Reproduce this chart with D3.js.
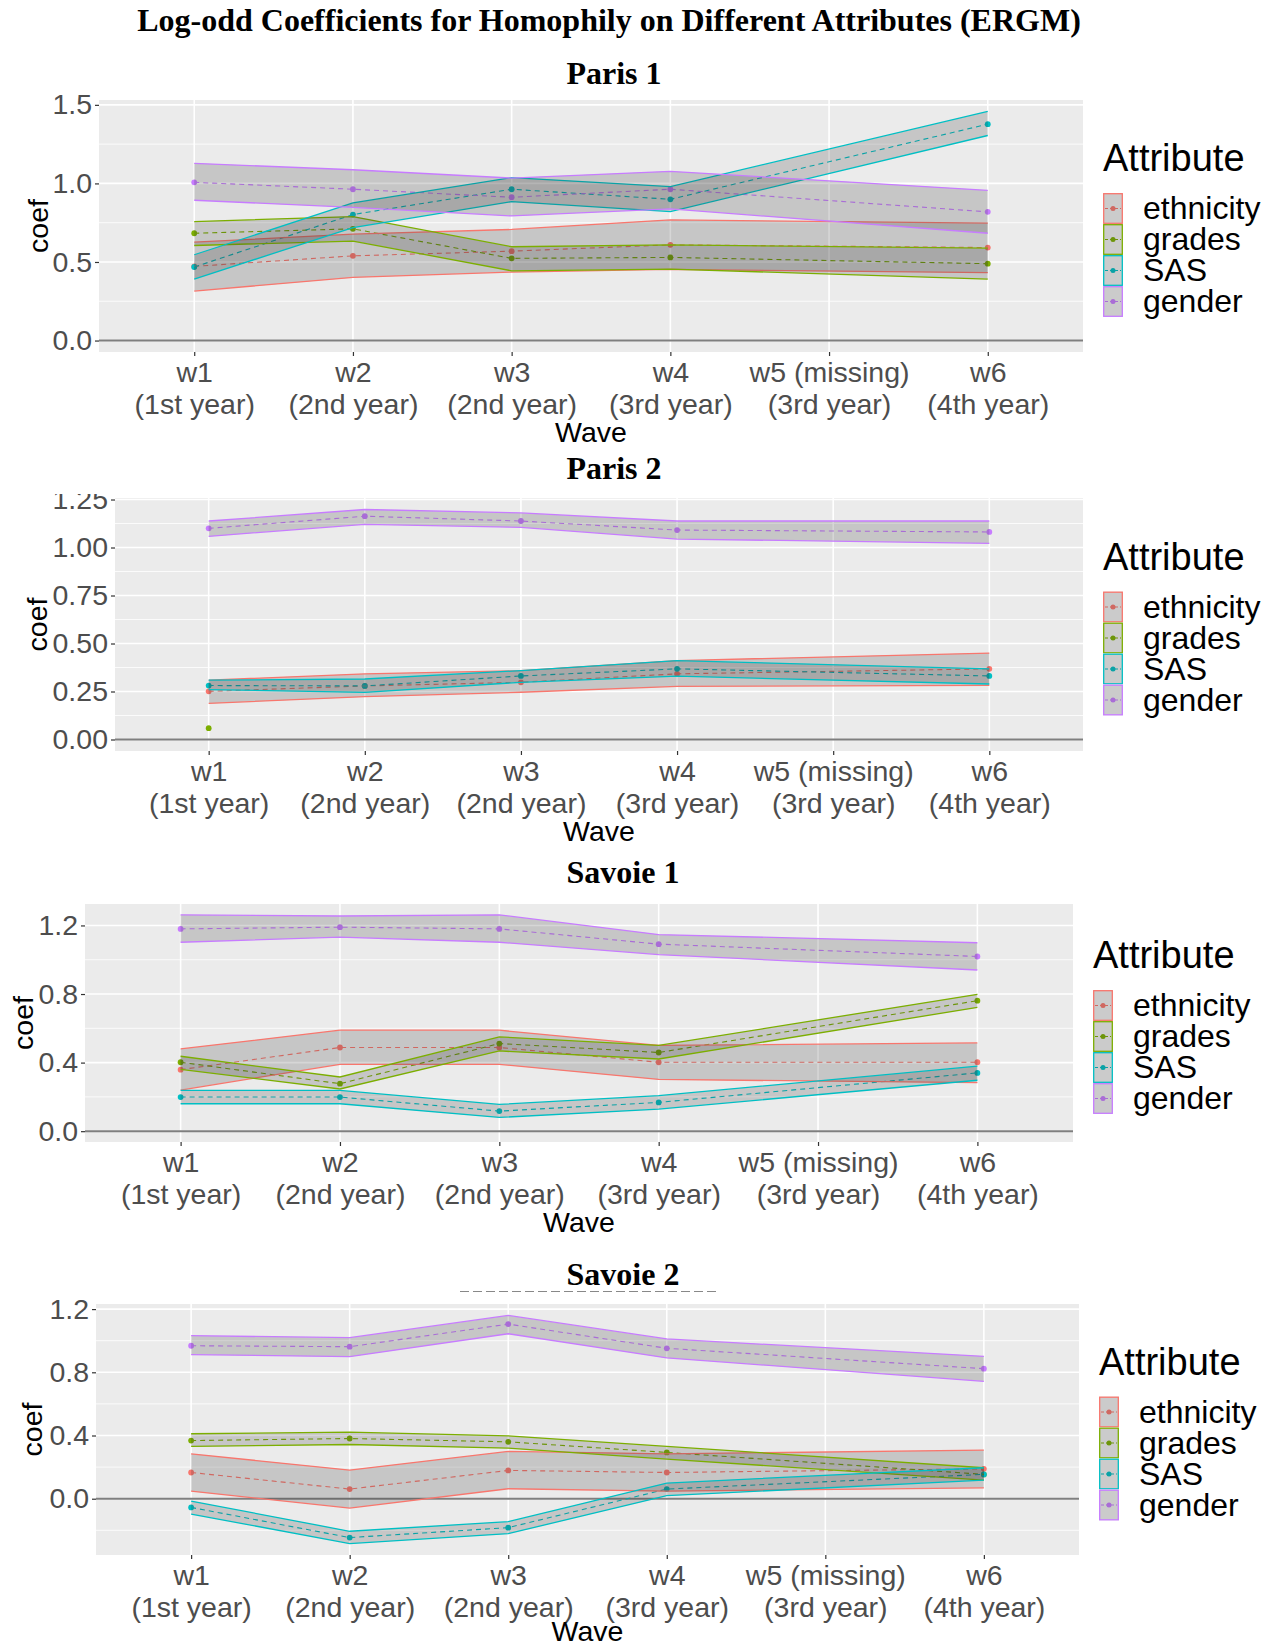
<!DOCTYPE html>
<html>
<head>
<meta charset="utf-8">
<script src="https://cdn.jsdelivr.net/npm/d3@7"></script>
<style>
body{margin:0;background:#fff}
text{font-family:"Liberation Sans",Arial,sans-serif}
.ttl{font-family:"Liberation Serif","Times New Roman",serif;font-weight:bold}
</style>
</head>
<body>
<svg id="chart" width="1275" height="1647"></svg>
<script>
var attributes=["ethnicity","grades","SAS","gender"];
var colors=["#F8766D","#7CAE00","#00BFC4","#C77CFF"];
var waves=["w1","w2","w3","w4","w5","w6"];
var waveLabels=[["w1","(1st year)"],["w2","(2nd year)"],["w3","(2nd year)"],["w4","(3rd year)"],["w5 (missing)","(3rd year)"],["w6","(4th year)"]];

// attribute, wave, coef, lower, upper  (w5 missing)
var paris1=[
  ["ethnicity","w1",0.472,0.315,0.626],["ethnicity","w2",0.539,0.402,0.677],["ethnicity","w3",0.569,0.436,0.707],
  ["ethnicity","w4",0.609,0.453,0.768],["ethnicity","w6",0.592,0.432,0.747],
  ["grades","w1",0.683,0.605,0.757],["grades","w2",0.711,0.633,0.789],["grades","w3",0.523,0.444,0.597],
  ["grades","w4",0.529,0.455,0.609],["grades","w6",0.489,0.391,0.588],
  ["SAS","w1",0.468,0.391,0.546],["SAS","w2",0.802,0.719,0.876],["SAS","w3",0.963,0.884,1.037],
  ["SAS","w4",0.899,0.821,0.980],["SAS","w6",1.377,1.305,1.458],
  ["gender","w1",1.007,0.893,1.128],["gender","w2",0.963,0.848,1.087],["gender","w3",0.912,0.793,1.034],
  ["gender","w4",0.963,0.838,1.077],["gender","w6",0.819,0.683,0.956]
];
var paris2=[
  ["ethnicity","w1",0.251,0.188,0.309],["ethnicity","w2",0.279,0.223,0.342],["ethnicity","w3",0.298,0.246,0.359],
  ["ethnicity","w4",0.342,0.277,0.411],["ethnicity","w6",0.368,0.282,0.450],
  ["grades","w1",0.059,null,null],
  ["SAS","w1",0.281,0.260,0.309],["SAS","w2",0.279,0.245,0.315],["SAS","w3",0.331,0.298,0.359],
  ["SAS","w4",0.368,0.330,0.411],["SAS","w6",0.331,0.289,0.368],
  ["gender","w1",1.100,1.058,1.138],["gender","w2",1.163,1.121,1.198],["gender","w3",1.138,1.105,1.180],
  ["gender","w4",1.091,1.044,1.138],["gender","w6",1.081,1.022,1.138]
];
var savoie1=[
  ["ethnicity","w1",0.359,0.240,0.480],["ethnicity","w2",0.488,0.390,0.589],["ethnicity","w3",0.488,0.390,0.589],
  ["ethnicity","w4",0.402,0.302,0.500],["ethnicity","w6",0.402,0.283,0.515],
  ["grades","w1",0.402,0.361,0.437],["grades","w2",0.277,0.246,0.316],["grades","w3",0.511,0.468,0.550],
  ["grades","w4",0.459,0.421,0.500],["grades","w6",0.761,0.722,0.798],
  ["SAS","w1",0.199,0.160,0.238],["SAS","w2",0.199,0.160,0.238],["SAS","w3",0.117,0.080,0.156],
  ["SAS","w4",0.168,0.129,0.207],["SAS","w6",0.340,0.297,0.379],
  ["gender","w1",1.180,1.102,1.262],["gender","w2",1.190,1.132,1.255],["gender","w3",1.180,1.102,1.262],
  ["gender","w4",1.091,1.030,1.147],["gender","w6",1.019,0.940,1.099]
];
var savoie2=[
  ["ethnicity","w1",0.166,0.048,0.284],["ethnicity","w2",0.061,-0.059,0.181],["ethnicity","w3",0.179,0.063,0.299],
  ["ethnicity","w4",0.166,0.048,0.284],["ethnicity","w6",0.189,0.069,0.307],
  ["grades","w1",0.368,0.331,0.411],["grades","w2",0.381,0.343,0.421],["grades","w3",0.360,0.320,0.398],
  ["grades","w4",0.293,0.251,0.331],["grades","w6",0.154,0.118,0.196],
  ["SAS","w1",-0.055,-0.097,-0.015],["SAS","w2",-0.246,-0.284,-0.206],["SAS","w3",-0.183,-0.221,-0.145],
  ["SAS","w4",0.061,0.019,0.099],["SAS","w6",0.154,0.118,0.196],
  ["gender","w1",0.968,0.912,1.032],["gender","w2",0.962,0.899,1.019],["gender","w3",1.105,1.044,1.160],
  ["gender","w4",0.952,0.891,1.011],["gender","w6",0.823,0.743,0.901]
];

var paris1Ticks=[0,0.5,1,1.5];
var paris2Ticks=[0,0.25,0.5,0.75,1,1.25];
var savoie1Ticks=[0,0.4,0.8,1.2];
var savoie2Ticks=[0,0.4,0.8,1.2];

var panels=[
  {title:"Paris 1",rows:paris1,ticks:paris1Ticks,fmt:".1f",x0:99,x1:1083,y0:100,y1:352,titleX:614,titleY:84,coefX:38,waveY:90},
  {title:"Paris 2",rows:paris2,ticks:paris2Ticks,fmt:".2f",x0:115,x1:1083,y0:498,y1:751,titleX:614,titleY:479,coefX:37,waveY:90},
  {title:"Savoie 1",rows:savoie1,ticks:savoie1Ticks,fmt:".1f",x0:85,x1:1073,y0:904,y1:1142,titleX:623,titleY:883,coefX:23,waveY:90},
  {title:"Savoie 2",rows:savoie2,ticks:savoie2Ticks,fmt:".1f",x0:96,x1:1079,y0:1304,y1:1555,titleX:623,titleY:1285,coefX:32,waveY:86}
];

var svg=d3.select("#chart");
svg.append("rect").attr("width",1275).attr("height",1647).attr("fill","#fff");

svg.append("text").attr("class","ttl")
  .attr("x",609).attr("y",31).attr("text-anchor","middle")
  .attr("font-size",32).text("Log-odd Coefficients for Homophily on Different Attributes (ERGM)");

function colorOf(a){ return colors[attributes.indexOf(a)]; }

function drawPanel(p){
  var g=svg.append("g");
  var vals=[0];
  p.rows.forEach(function(r){ vals.push(r[2]); if(r[3]!=null) vals.push(r[3],r[4]); });
  var ext=d3.extent(vals), pad=(ext[1]-ext[0])*0.05;
  var y=d3.scaleLinear().domain([ext[0]-pad,ext[1]+pad]).range([p.y1,p.y0]);
  var x=d3.scalePoint().domain(waves).range([p.x0,p.x1]).padding(0.6);

  g.append("rect").attr("x",p.x0).attr("y",p.y0)
    .attr("width",p.x1-p.x0).attr("height",p.y1-p.y0).attr("fill","#EBEBEB");

  //grid menor
  var step=p.ticks[1]-p.ticks[0], minor=[];
  for(var v=p.ticks[0]-step*1.5; v<=p.ticks[p.ticks.length-1]+step; v+=step){
    if(v>=y.domain()[0] && v<=y.domain()[1]) minor.push(v);
  }
  g.selectAll("line.minor").data(minor).enter().append("line")
    .attr("x1",p.x0).attr("x2",p.x1)
    .attr("y1",function(d){return y(d)}).attr("y2",function(d){return y(d)})
    .attr("stroke","#fff").attr("stroke-width",0.8);
  g.selectAll("line.major").data(p.ticks).enter().append("line")
    .attr("x1",p.x0).attr("x2",p.x1)
    .attr("y1",function(d){return y(d)}).attr("y2",function(d){return y(d)})
    .attr("stroke","#fff").attr("stroke-width",1.6);
  g.selectAll("line.vgrid").data(waves).enter().append("line")
    .attr("x1",function(d){return x(d)}).attr("x2",function(d){return x(d)})
    .attr("y1",p.y0).attr("y2",p.y1)
    .attr("stroke","#fff").attr("stroke-width",1.6);

  g.append("line").attr("x1",p.x0).attr("x2",p.x1).attr("y1",y(0)).attr("y2",y(0))
    .attr("stroke","#7F7F7F").attr("stroke-width",2);

  //ejes
  var gy=g.append("g").attr("transform","translate("+p.x0+",0)")
    .call(d3.axisLeft(y).tickValues(p.ticks).tickFormat(d3.format(p.fmt)).tickSize(4).tickPadding(3));
  var gx=g.append("g").attr("transform","translate(0,"+p.y1+")")
    .call(d3.axisBottom(x).tickSize(4).tickFormat(""));
  [gy,gx].forEach(function(a){
    a.select(".domain").remove();
    a.attr("font-family",null).attr("font-size",null).attr("color","#333");
    a.selectAll(".tick line").attr("stroke-width",1.2);
    a.selectAll(".tick text").attr("fill","#4D4D4D");
  });
  gy.selectAll(".tick text").attr("font-size",28.5);
  gx.selectAll(".tick text").attr("font-size",28.5).attr("dy",null).attr("y",null)
    .each(function(d,i){
      var t=d3.select(this);
      t.append("tspan").attr("x",0).attr("y",30).text(waveLabels[i][0]);
      t.append("tspan").attr("x",0).attr("y",62).text(waveLabels[i][1]);
    });

  g.append("text").attr("x",(p.x0+p.x1)/2).attr("y",p.y1+p.waveY).attr("text-anchor","middle")
    .attr("font-size",28.5).text("Wave");
  g.append("text").attr("transform","translate("+p.coefX+","+((p.y0+p.y1)/2)+")rotate(-90)")
    .attr("text-anchor","middle").attr("dy","0.35em").attr("font-size",28.5).text("coef");
  svg.append("text").attr("class","ttl").attr("x",p.titleX).attr("y",p.titleY)
    .attr("text-anchor","middle").attr("font-size",32).text(p.title);

  var groups=attributes.map(function(a){
    return {name:a, rows:p.rows.filter(function(r){return r[0]==a})};
  });

  var line=d3.line().x(function(r){return x(r[1])}).y(function(r){return y(r[2])});
  var area=d3.area().x(function(r){return x(r[1])})
    .y0(function(r){return y(r[3])}).y1(function(r){return y(r[4])});
  var lo=d3.line().x(function(r){return x(r[1])}).y(function(r){return y(r[3])});
  var hi=d3.line().x(function(r){return x(r[1])}).y(function(r){return y(r[4])});

  //puntos
  groups.forEach(function(gr){
    g.selectAll(null).data(gr.rows).enter().append("circle")
      .attr("cx",function(r){return x(r[1])}).attr("cy",function(r){return y(r[2])})
      .attr("r",2.9).attr("fill",colorOf(gr.name));
  });
  //lineas
  groups.forEach(function(gr){
    if(gr.rows.length<2) return;
    g.append("path").attr("d",line(gr.rows)).attr("fill","none")
      .attr("stroke",colorOf(gr.name)).attr("stroke-width",1.1).attr("stroke-dasharray","5,4");
  });
  //bandas
  groups.forEach(function(gr){
    var rr=gr.rows.filter(function(r){return r[3]!=null});
    if(rr.length<2) return;
    g.append("path").attr("d",area(rr)).attr("fill","rgba(51,51,51,0.2)");
    g.append("path").attr("d",lo(rr)).attr("fill","none").attr("stroke",colorOf(gr.name)).attr("stroke-width",1.3);
    g.append("path").attr("d",hi(rr)).attr("fill","none").attr("stroke",colorOf(gr.name)).attr("stroke-width",1.3);
  });

  drawLegend(p);
}

function drawLegend(p){
  var cy=(p.y0+p.y1)/2;
  var lg=svg.append("g").attr("transform","translate("+(p.x1+20)+","+(cy-86)+")");
  lg.append("text").attr("y",31).attr("font-size",38).text("Attribute");
  var key=lg.selectAll("g.key").data(attributes).enter().append("g")
    .attr("transform",function(d,i){return "translate(0,"+(53+i*31)+")"});
  key.append("rect").attr("width",20).attr("height",31).attr("fill","#F2F2F2");
  key.append("line").attr("x1",2).attr("x2",18).attr("y1",15.5).attr("y2",15.5)
    .attr("stroke",function(d,i){return colors[i]}).attr("stroke-dasharray","3,2");
  key.append("circle").attr("cx",10).attr("cy",15.5).attr("r",2.5)
    .attr("fill",function(d,i){return colors[i]});
  key.append("rect").attr("x",0.7).attr("y",0.7).attr("width",18.6).attr("height",29.6)
    .attr("fill","rgba(51,51,51,0.2)")
    .attr("stroke",function(d,i){return colors[i]}).attr("stroke-width",1.3);
  key.append("text").attr("x",40).attr("y",26).attr("font-size",32).text(function(d){return d});
}

panels.forEach(drawPanel);

// restos del recorte de las imagenes
svg.append("rect").attr("x",0).attr("y",481).attr("width",112).attr("height",13).attr("fill","#fff");
svg.append("line").attr("x1",460).attr("x2",720).attr("y1",1291.5).attr("y2",1291.5)
  .attr("stroke","#888").attr("stroke-width",1).attr("stroke-dasharray","9,4");
</script>
</body>
</html>
